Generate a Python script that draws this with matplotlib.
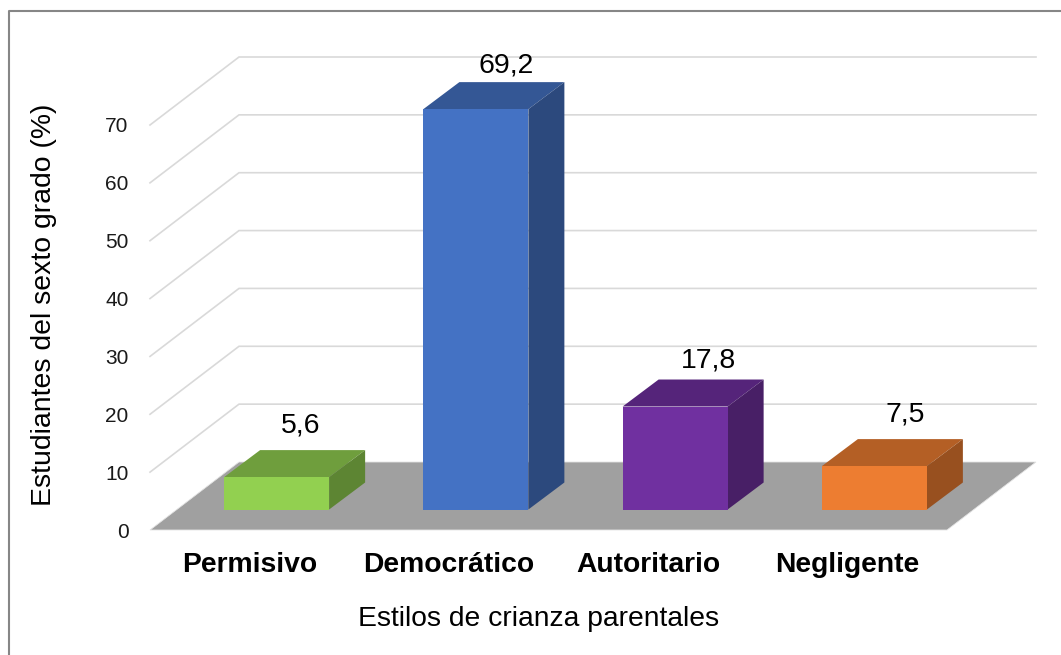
import matplotlib
matplotlib.use("Agg")
import matplotlib.pyplot as plt
from matplotlib.colors import to_rgb
from matplotlib.lines import Line2D
from matplotlib.patches import Polygon

categories = ["Permisivo", "Democrático", "Autoritario", "Negligente"]
values = [5.6, 69.2, 17.8, 7.5]
value_labels = ["5,6", "69,2", "17,8", "7,5"]
y_ticks = [0, 10, 20, 30, 40, 50, 60, 70]
front_colors = ["#92D050", "#4472C4", "#7030A0", "#ED7D31"]

W, H = 1061, 655
plt.rcParams["font.family"] = ["Liberation Sans", "DejaVu Sans"]
fig = plt.figure(figsize=(W / 100, H / 100), dpi=100, facecolor="white")

# plot box in pixels (front plane of the oblique chart)
L, R, B, T = 150, 947, 530, 125
ax = fig.add_axes([L / W, 1 - B / H, (R - L) / W, (B - T) / H])
ax.set_xlim(-0.5, 3.5)
ax.set_ylim(0, 70)
ax.set_facecolor("none")
for s in ax.spines.values():
    s.set_visible(False)

px_x = 4 / (R - L)
px_y = 70 / (B - T)
# oblique depth
DX, DY = 89 * px_x, 68 * px_y          # full floor depth
BAR_DX, BAR_DY = 36 * px_x, 27 * px_y  # depth of a bar
LIFT_X, LIFT_Y = 27 * px_x, 20.5 * px_y  # bar offset from the floor front
BAR_W = 105 * px_x
x0, x1 = ax.get_xlim()

# gridlines
for v in y_ticks[1:]:
    ax.plot([x0, x0 + DX, x1 + DX], [v, v + DY, v + DY], color="#D9D9D9",
            lw=1.2, clip_on=False, zorder=1, solid_joinstyle="miter")

# floor
ax.add_patch(Polygon([(x0, 0), (x1, 0), (x1 + DX, DY), (x0 + DX, DY)], closed=True,
                     facecolor="#A0A0A0", edgecolor="#E4E4E4", lw=0.6,
                     clip_on=False, zorder=2))


def shade(color, k):
    return tuple(c * k for c in to_rgb(color))


# bars
positions = range(len(categories))
centers = [p + LIFT_X for p in positions]
ax.bar(centers, values, width=BAR_W, bottom=LIFT_Y, color=front_colors,
       clip_on=False, zorder=4, linewidth=0)
for cx, v, c in zip(centers, values, front_colors):
    xl, xr = cx - BAR_W / 2, cx + BAR_W / 2
    yb, yt = LIFT_Y, LIFT_Y + v
    ax.add_patch(Polygon([(xl, yt), (xr, yt), (xr + BAR_DX, yt + BAR_DY), (xl + BAR_DX, yt + BAR_DY)],
                         closed=True, facecolor=shade(c, 0.76), edgecolor="none",
                         clip_on=False, zorder=3))
    ax.add_patch(Polygon([(xr, yb), (xr + BAR_DX, yb + BAR_DY), (xr + BAR_DX, yt + BAR_DY), (xr, yt)],
                         closed=True, facecolor=shade(c, 0.64), edgecolor="none",
                         clip_on=False, zorder=3))

# value labels (hand-placed in the source chart)
label_offsets_px = [(24, 52), (30, 44), (33, 46), (31, 52)]
for cx, v, t, (ox, oy) in zip(centers, values, value_labels, label_offsets_px):
    ax.text(cx + ox * px_x, LIFT_Y + v + oy * px_y, t, fontsize=20.4, color="black",
            ha="center", va="center", clip_on=False, zorder=6)

# axes text
ax.set_yticks(y_ticks)
ax.set_yticklabels([str(v) for v in y_ticks], fontsize=15, color="#1A1A1A")
ax.tick_params(axis="y", length=0, pad=15.5)
ax.set_xticks(list(positions))
ax.set_xticklabels(categories, fontsize=20.3, fontweight="bold", color="black")
ax.tick_params(axis="x", length=0, pad=15.5)
ax.set_xlabel("Estilos de crianza parentales", fontsize=20.3, color="black", va="center")
ax.set_ylabel("Estudiantes del sexto grado (%)", fontsize=20.4, color="black", va="center")
ax.xaxis.set_label_coords((538.5 - L) / (R - L), (B - 619) / (B - T))
ax.yaxis.set_label_coords((44 - L) / (R - L), (B - 305) / (B - T))

# outer chart frame (left and top edges are visible)
fig.add_artist(Line2D([9 / W, 9 / W, 1], [0, 1 - 11 / H, 1 - 11 / H], color="#868686", lw=1.5,
                      transform=fig.transFigure))

fig.savefig("out.png", dpi=100)
